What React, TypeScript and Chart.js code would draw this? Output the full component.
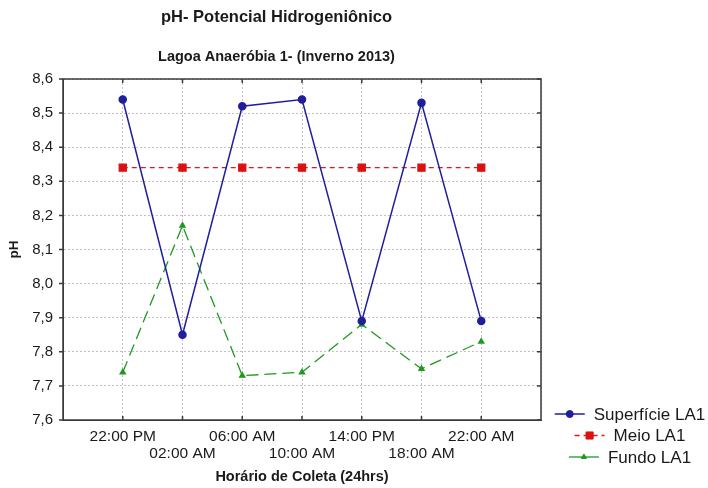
import React, { useEffect, useRef } from 'react';
import { Chart, registerables } from 'chart.js';

Chart.register(...registerables);

// ---- data ----
const TIME_LABELS = ['22:00 PM', '02:00 AM', '06:00 AM', '10:00 AM', '14:00 PM', '18:00 AM', '22:00 AM'];
const SUPERFICIE = [8.54, 7.85, 8.52, 8.54, 7.89, 8.53, 7.89];
const MEIO = [8.34, 8.34, 8.34, 8.34, 8.34, 8.34, 8.34];
const FUNDO = [7.74, 8.17, 7.73, 7.74, 7.88, 7.75, 7.83];
const SERIES_NAMES = ['Superfície LA1', 'Meio LA1', 'Fundo LA1'];
const TITLE = 'pH- Potencial Hidrogeniônico';
const SUBTITLE = 'Lagoa Anaeróbia 1- (Inverno 2013)';
const X_TITLE = 'Horário de Coleta (24hrs)';
const Y_TITLE = 'pH';
const Y_MIN = 7.6;
const Y_MAX = 8.6;
const Y_STEP = 0.1;

const FONT = '"Liberation Sans", Arial, sans-serif';

const toPoints = (vals: number[]) => vals.map((y, i) => ({ x: i, y }));

function drawMarker(ctx: CanvasRenderingContext2D, style: string, x: number, y: number, r: number, color: string) {
  ctx.save();
  ctx.setLineDash([]);
  ctx.fillStyle = color;
  ctx.strokeStyle = color;
  ctx.lineWidth = 1;
  ctx.beginPath();
  if (style === 'rect') {
    const s = r * Math.SQRT1_2;
    ctx.rect(x - s, y - s, 2 * s, 2 * s);
  } else if (style === 'triangle') {
    let a = 0;
    ctx.moveTo(x + Math.sin(a) * r, y - Math.cos(a) * r);
    a += (2 * Math.PI) / 3;
    ctx.lineTo(x + Math.sin(a) * r, y - Math.cos(a) * r);
    a += (2 * Math.PI) / 3;
    ctx.lineTo(x + Math.sin(a) * r, y - Math.cos(a) * r);
    ctx.closePath();
  } else {
    ctx.arc(x, y, r, 0, Math.PI * 2);
  }
  ctx.fill();
  ctx.stroke();
  ctx.restore();
}

const bgPlugin = {
  id: 'bg',
  beforeDraw(chart: any) {
    const ctx = chart.ctx;
    ctx.save();
    ctx.fillStyle = '#ffffff';
    ctx.fillRect(0, 0, chart.width, chart.height);
    ctx.restore();
  },
};

const framePlugin = {
  id: 'frame',
  afterDraw(chart: any) {
    const { ctx, chartArea: a, scales } = chart;
    ctx.save();
    ctx.setLineDash([]);
    ctx.strokeStyle = '#3a3a3a';
    ctx.lineWidth = 1.5;
    ctx.strokeRect(a.left, a.top, a.right - a.left, a.bottom - a.top);
    // x ticks (inward, top & bottom)
    TIME_LABELS.forEach((_, i) => {
      const px = scales.x.getPixelForValue(i);
      ctx.beginPath();
      ctx.moveTo(px, a.bottom);
      ctx.lineTo(px, a.bottom - 4);
      ctx.moveTo(px, a.top);
      ctx.lineTo(px, a.top + 4);
      ctx.stroke();
    });
    // y ticks (outward left, inward right)
    scales.y.ticks.forEach((t: any) => {
      const py = scales.y.getPixelForValue(t.value);
      ctx.beginPath();
      ctx.moveTo(a.left, py);
      ctx.lineTo(a.left - 4, py);
      ctx.moveTo(a.right, py);
      ctx.lineTo(a.right - 4, py);
      ctx.stroke();
    });
    ctx.restore();
  },
};

const LEGEND_CX = 630;
const LEGEND_Y0 = 414;
const LEGEND_ROW = 21.5;

const legendPlugin = {
  id: 'customLegend',
  afterDraw(chart: any) {
    const ctx = chart.ctx;
    ctx.save();
    ctx.font = `17px ${FONT}`;
    ctx.textBaseline = 'middle';
    ctx.textAlign = 'left';
    chart.data.datasets.forEach((ds: any, i: number) => {
      const y = LEGEND_Y0 + i * LEGEND_ROW;
      const tw = ctx.measureText(ds.label).width;
      const lineW = 30;
      const gap = 9;
      const x0 = LEGEND_CX - (lineW + gap + tw) / 2;
      ctx.save();
      ctx.strokeStyle = ds.borderColor;
      ctx.lineWidth = ds.borderWidth;
      ctx.setLineDash(ds.legendDash || ds.borderDash || []);
      ctx.beginPath();
      ctx.moveTo(x0, y);
      ctx.lineTo(x0 + lineW, y);
      ctx.stroke();
      ctx.restore();
      drawMarker(ctx, ds.pointStyle, x0 + lineW / 2, y, ds.pointRadius, ds.pointBackgroundColor);
      ctx.fillStyle = '#1a1a1a';
      ctx.fillText(ds.label, x0 + lineW + gap, y + 1);
    });
    ctx.restore();
  },
};

export default function App() {
  const canvasRef = useRef<HTMLCanvasElement | null>(null);

  useEffect(() => {
    const canvas = canvasRef.current;
    if (!canvas) return;
    const gridColor = 'rgba(180,160,185,0.7)';
    const chart = new Chart(canvas, {
      type: 'line',
      data: {
        datasets: [
          {
            label: SERIES_NAMES[0],
            data: toPoints(SUPERFICIE),
            borderColor: '#1f1f9c',
            backgroundColor: '#1f1f9c',
            pointBackgroundColor: '#1f1f9c',
            pointBorderColor: '#1f1f9c',
            borderWidth: 1.5,
            pointStyle: 'circle',
            pointRadius: 3.5,
            tension: 0,
          } as any,
          {
            label: SERIES_NAMES[1],
            data: toPoints(MEIO),
            borderColor: '#dd1a1a',
            backgroundColor: '#dd1a1a',
            pointBackgroundColor: '#dd1010',
            pointBorderColor: '#dd1010',
            borderWidth: 1.3,
            borderDash: [5, 4],
            legendDash: [5, 4],
            pointStyle: 'rect',
            pointRadius: 5,
            tension: 0,
          } as any,
          {
            label: SERIES_NAMES[2],
            data: toPoints(FUNDO),
            borderColor: '#1e9a1e',
            backgroundColor: '#1e9a1e',
            pointBackgroundColor: '#1e9a1e',
            pointBorderColor: '#1e9a1e',
            borderWidth: 1.3,
            borderDash: [12, 6],
            legendDash: [],
            pointStyle: 'triangle',
            pointRadius: 3,
            tension: 0,
          } as any,
        ],
      },
      options: {
        responsive: false,
        animation: false,
        devicePixelRatio: 1,
        layout: { padding: { left: 0, right: 155, top: 0, bottom: 0 } },
        plugins: {
          legend: { display: false },
          tooltip: { enabled: false },
          title: {
            display: true,
            text: TITLE,
            color: '#1a1a1a',
            font: { family: FONT, size: 16.5, weight: 'bold', lineHeight: 1.2 },
            padding: { top: 7.5, bottom: 8 },
          },
          subtitle: {
            display: true,
            text: SUBTITLE,
            color: '#1a1a1a',
            font: { family: FONT, size: 14.5, weight: 'bold', lineHeight: 1.2 },
            padding: { top: 13, bottom: 13.3 },
          },
        },
        scales: {
          x: {
            type: 'linear',
            position: 'bottom',
            min: -1,
            max: TIME_LABELS.length,
            afterFit: (s: any) => {
              s.height = 68;
            },
            ticks: {
              stepSize: 1,
              autoSkip: false,
              maxRotation: 0,
              minRotation: 0,
              padding: 8.75,
              color: '#1a1a1a',
              font: { family: FONT, size: 15.5, lineHeight: 1.07 },
              callback: (v: any) => {
                const i = Math.round(Number(v));
                if (i < 0 || i >= TIME_LABELS.length) return '';
                return i % 2 === 0 ? TIME_LABELS[i] : ['', TIME_LABELS[i]];
              },
            },
            grid: { color: gridColor, lineWidth: 1, drawTicks: false },
            border: { display: true, color: '#3a3a3a', dash: [2, 2] },
            title: {
              display: true,
              text: X_TITLE,
              color: '#1a1a1a',
              font: { family: FONT, size: 14.5, weight: 'bold', lineHeight: 1.2 },
              padding: { top: 0, bottom: 2 },
            },
          } as any,
          y: {
            type: 'linear',
            position: 'left',
            min: Y_MIN,
            max: Y_MAX,
            afterFit: (s: any) => {
              s.width = 63;
            },
            ticks: {
              stepSize: Y_STEP,
              autoSkip: false,
              padding: 10,
              color: '#1a1a1a',
              font: { family: FONT, size: 15 },
              callback: (v: any) => Number(v).toFixed(1).replace('.', ','),
            },
            grid: { color: gridColor, lineWidth: 1, drawTicks: false },
            border: { display: true, color: '#3a3a3a', dash: [2, 2] },
            title: {
              display: true,
              text: Y_TITLE,
              color: '#1a1a1a',
              font: { family: FONT, size: 13.5, weight: 'bold', lineHeight: 1.2 },
              padding: { top: 6, bottom: 0 },
            },
          } as any,
          y2: {
            type: 'linear',
            position: 'right',
            min: Y_MIN,
            max: Y_MAX,
            afterFit: (s: any) => {
              s.width = 12;
            },
            ticks: { display: false },
            grid: { drawOnChartArea: false, drawTicks: false },
            border: { display: false },
          } as any,
        },
      },
      plugins: [bgPlugin, framePlugin, legendPlugin],
    });
    return () => chart.destroy();
  }, []);

  return (
    <div style={{ position: 'fixed', left: 0, top: 0, width: 708, height: 488, background: '#fff' }}>
      <canvas ref={canvasRef} width={708} height={488} style={{ width: 708, height: 488, display: 'block' }} />
    </div>
  );
}
